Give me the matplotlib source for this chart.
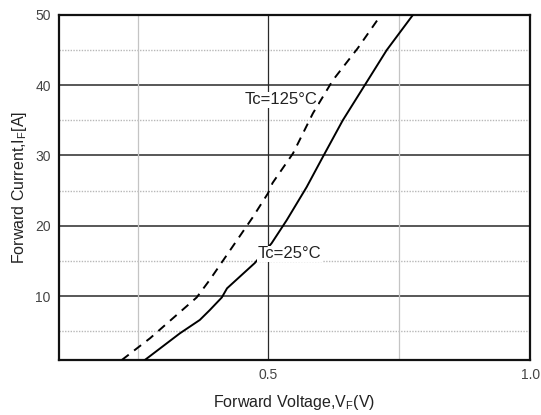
import matplotlib
matplotlib.use("Agg")
import matplotlib.pyplot as plt

# Data
vf_25 = [0.264, 0.331, 0.369, 0.388, 0.411, 0.421, 0.474, 0.506, 0.535, 0.573, 0.604, 0.642, 0.684, 0.726, 0.776]
if_25 = [0.9, 4.7, 6.6, 8.0, 9.8, 11.1, 14.7, 17.5, 20.8, 25.5, 29.8, 35.0, 40.0, 45.0, 50.0]
vf_125 = [0.220, 0.274, 0.363, 0.388, 0.470, 0.499, 0.508, 0.547, 0.585, 0.623, 0.671, 0.715]
if_125 = [0.9, 4.0, 9.8, 12.3, 21.2, 24.6, 26.1, 30.3, 36.0, 40.7, 45.3, 50.0]

x_ticks = [0.5, 1.0]
x_ticklabels = ["0.5", "1.0"]
y_ticks = [10, 20, 30, 40, 50]
y_ticklabels = ["10", "20", "30", "40", "50"]
y_minor = [5, 15, 25, 35, 45]
x_minor = [0.25, 0.75]

plt.rcParams['font.family'] = ['Liberation Sans', 'DejaVu Sans']

fig = plt.figure(figsize=(5.41, 4.15), dpi=100)
ax = fig.add_axes([0.109, 0.1325, 0.871, 0.8315])
ax.set_xlim(0.1, 1.0)
ax.set_ylim(0.9, 50)

# grid
for y in y_minor:
    ax.axhline(y, color='#b8b8b8', lw=1.0, ls=(0, (1, 1)), zorder=1)
for y in [10, 20, 30, 40]:
    ax.axhline(y, color='#2a2a2a', lw=1.1, zorder=1)
for x in x_minor:
    ax.axvline(x, color='#c4c4c4', lw=0.9, zorder=1)
ax.axvline(0.5, color='#2a2a2a', lw=0.9, zorder=1)

ax.plot(vf_25, if_25, color='black', lw=1.4, zorder=3)
ax.plot(vf_125, if_125, color='black', lw=1.4, ls=(0, (4.5, 3.5)), zorder=3)

ax.text(0.480, 16.0, "Tc=25°C", fontsize=12, ha='left', va='center', color='#222222',
        zorder=4, bbox=dict(facecolor='white', edgecolor='none', pad=0.5))
ax.text(0.594, 37.9, "Tc=125°C", fontsize=12, ha='right', va='center', color='#222222',
        zorder=4, bbox=dict(facecolor='white', edgecolor='none', pad=0.5))

ax.set_xticks(x_ticks)
ax.set_xticklabels(x_ticklabels)
ax.set_yticks(y_ticks)
ax.set_yticklabels(y_ticklabels)
ax.tick_params(length=0, labelsize=10, labelcolor='#444444', pad=6)

for s in ax.spines.values():
    s.set_linewidth(1.6)
    s.set_color('#111111')

ax.set_xlabel("Forward Voltage,V$_\\mathregular{F}$(V)", fontsize=11.5, color='#222222', labelpad=8)
ax.set_ylabel("Forward Current,I$_\\mathregular{F}$[A]", fontsize=11.5, color='#222222', labelpad=4)

fig.savefig("out.png", dpi=100)
